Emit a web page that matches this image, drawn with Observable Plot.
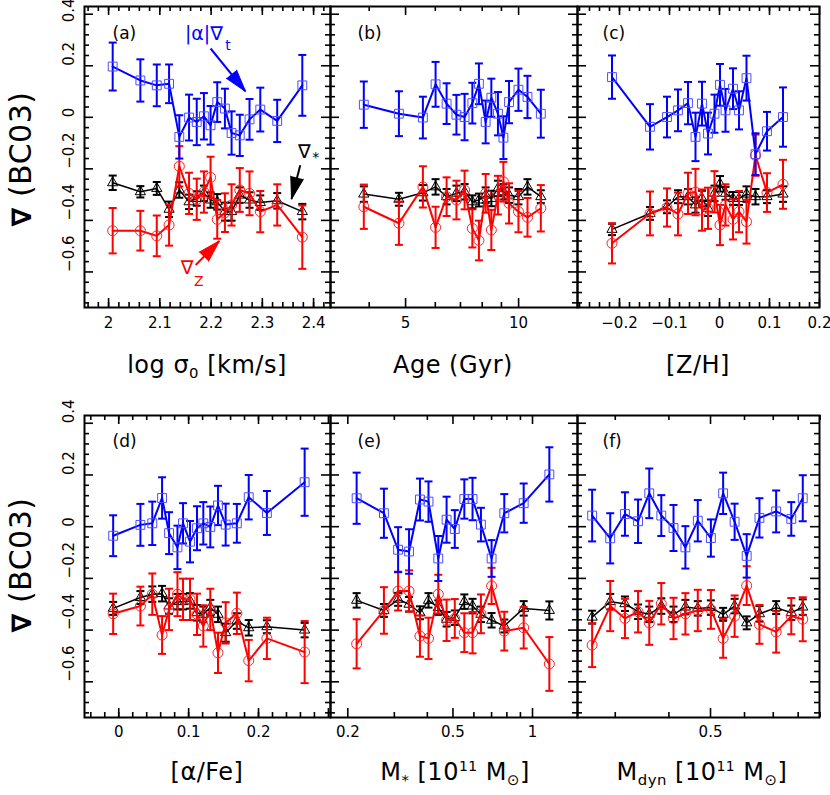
<!DOCTYPE html>
<html><head><meta charset="utf-8">
<script src="https://cdn.jsdelivr.net/npm/d3@7"></script>
<script src="https://cdn.jsdelivr.net/npm/@observablehq/plot@0.6"></script>
<style>
body{margin:0;background:#fff;}
#wrap{position:relative;width:830px;height:795px;font-family:"DejaVu Sans",sans-serif;color:#000;overflow:hidden;}
.xt{position:absolute;transform:translateX(-50%);font-size:24px;line-height:28px;white-space:nowrap;letter-spacing:0.5px;}
.xt sub{font-size:0.62em;vertical-align:-0.35em;line-height:0;}
.xt sup{font-size:0.58em;vertical-align:0.65em;line-height:0;}
.yt{position:absolute;transform:translate(-50%,-50%) rotate(-90deg);font-size:30px;line-height:34px;white-space:nowrap;letter-spacing:0.5px;}
.yt b{font-size:0.9em;}
</style></head><body><div id="wrap"></div>
<script>
// ---------------- data ----------------
// (a) log sigma0
const xA = [2.008, 2.062, 2.094, 2.118, 2.138, 2.157, 2.172, 2.186, 2.199, 2.212, 2.227, 2.240, 2.256, 2.275, 2.296, 2.329, 2.378];
const blueA = [0.197, 0.143, 0.124, 0.130, -0.076, -0.001, -0.018, 0.004, -0.031, 0.059, 0.034, -0.061, -0.070, -0.008, 0.030, -0.014, 0.124];
const blueErrA = [0.093, 0.082, 0.081, 0.075, 0.084, 0.089, 0.090, 0.090, 0.075, 0.077, 0.077, 0.084, 0.080, 0.079, 0.085, 0.082, 0.118];
const blackA = [-0.254, -0.289, -0.276, -0.357, -0.282, -0.328, -0.315, -0.295, -0.321, -0.328, -0.366, -0.366, -0.302, -0.321, -0.331, -0.324, -0.366];
const blackErrA = [0.028, 0.022, 0.025, 0.030, 0.030, 0.028, 0.028, 0.030, 0.030, 0.030, 0.035, 0.035, 0.030, 0.030, 0.028, 0.030, 0.030];
const redA = [-0.440, -0.440, -0.460, -0.418, -0.190, -0.295, -0.318, -0.290, -0.233, -0.396, -0.370, -0.340, -0.282, -0.295, -0.366, -0.340, -0.465];
const redErrA = [0.088, 0.077, 0.079, 0.080, 0.078, 0.080, 0.080, 0.080, 0.080, 0.075, 0.075, 0.080, 0.085, 0.085, 0.080, 0.080, 0.123];
// (b) Age
const xB = [3.87, 4.80, 5.56, 6.01, 6.43, 6.83, 7.18, 7.53, 7.84, 8.17, 8.46, 8.81, 9.11, 9.43, 9.99, 10.56, 11.46];
const blueB = [0.049, 0.014, -0.001, 0.128, 0.053, 0.010, 0.001, 0.055, 0.130, -0.018, 0.076, 0.014, -0.079, 0.059, 0.107, 0.079, 0.014];
const blueErrB = [0.090, 0.087, 0.081, 0.087, 0.079, 0.077, 0.090, 0.079, 0.079, 0.083, 0.074, 0.084, 0.083, 0.082, 0.082, 0.082, 0.093];
const blackB = [-0.298, -0.318, -0.293, -0.270, -0.308, -0.295, -0.289, -0.328, -0.321, -0.302, -0.315, -0.276, -0.289, -0.302, -0.308, -0.270, -0.308];
const blackErrB = [0.030, 0.025, 0.030, 0.030, 0.030, 0.030, 0.030, 0.025, 0.025, 0.030, 0.030, 0.030, 0.030, 0.030, 0.030, 0.030, 0.025];
const redB = [-0.347, -0.411, -0.270, -0.427, -0.308, -0.321, -0.282, -0.431, -0.478, -0.295, -0.437, -0.302, -0.250, -0.334, -0.366, -0.388, -0.353];
const redErrB = [0.086, 0.084, 0.080, 0.080, 0.075, 0.075, 0.075, 0.074, 0.077, 0.075, 0.078, 0.075, 0.077, 0.078, 0.080, 0.075, 0.090];
// (c) [Z/H]
const xC = [-0.215, -0.139, -0.105, -0.083, -0.063, -0.048, -0.035, -0.023, -0.010, 0.001, 0.012, 0.027, 0.039, 0.054, 0.072, 0.095, 0.127];
const blueC = [0.156, -0.037, 0.001, 0.027, 0.055, -0.076, 0.053, -0.063, 0.014, 0.126, 0.027, 0.111, 0.027, 0.152, -0.143, -0.054, 0.001];
const blueErrC = [0.084, 0.088, 0.079, 0.081, 0.082, 0.094, 0.085, 0.081, 0.074, 0.081, 0.083, 0.079, 0.074, 0.087, 0.081, 0.075, 0.115];
const blackC = [-0.435, -0.373, -0.347, -0.308, -0.308, -0.340, -0.315, -0.353, -0.295, -0.258, -0.295, -0.315, -0.315, -0.298, -0.308, -0.308, -0.298];
const blackErrC = [0.022, 0.025, 0.025, 0.025, 0.030, 0.030, 0.030, 0.030, 0.030, 0.030, 0.025, 0.025, 0.025, 0.030, 0.030, 0.025, 0.030];
const redC = [-0.489, -0.373, -0.350, -0.375, -0.295, -0.290, -0.360, -0.353, -0.289, -0.418, -0.340, -0.396, -0.366, -0.405, -0.147, -0.292, -0.260];
const redErrC = [0.078, 0.085, 0.074, 0.083, 0.080, 0.090, 0.080, 0.080, 0.080, 0.078, 0.080, 0.078, 0.080, 0.085, 0.080, 0.075, 0.095];
// (d) [alpha/Fe]
const xD = [-0.008, 0.031, 0.048, 0.062, 0.072, 0.084, 0.092, 0.102, 0.112, 0.121, 0.131, 0.142, 0.153, 0.169, 0.186, 0.212, 0.266];
const blueD = [-0.035, 0.007, 0.013, 0.111, -0.025, -0.080, 0.013, -0.058, -0.006, 0.013, -0.001, 0.082, 0.008, 0.013, 0.114, 0.053, 0.172];
const blueErrD = [0.079, 0.081, 0.084, 0.080, 0.081, 0.084, 0.078, 0.080, 0.085, 0.082, 0.079, 0.076, 0.081, 0.075, 0.086, 0.085, 0.130];
const blackD = [-0.316, -0.274, -0.261, -0.259, -0.307, -0.290, -0.290, -0.287, -0.333, -0.339, -0.313, -0.339, -0.410, -0.365, -0.391, -0.387, -0.400];
const blackErrD = [0.025, 0.025, 0.030, 0.030, 0.030, 0.030, 0.030, 0.030, 0.030, 0.030, 0.030, 0.030, 0.035, 0.030, 0.030, 0.025, 0.028];
const redD = [-0.337, -0.307, -0.261, -0.419, -0.320, -0.261, -0.281, -0.281, -0.339, -0.384, -0.320, -0.488, -0.372, -0.335, -0.518, -0.432, -0.485];
const redErrD = [0.078, 0.075, 0.080, 0.073, 0.080, 0.085, 0.080, 0.080, 0.080, 0.080, 0.080, 0.078, 0.080, 0.080, 0.080, 0.080, 0.120];
// (e) M*
const xE = [0.216, 0.274, 0.310, 0.341, 0.375, 0.404, 0.440, 0.473, 0.508, 0.552, 0.593, 0.638, 0.700, 0.782, 0.926, 1.158];
const blueE = [0.110, 0.052, -0.089, -0.096, 0.105, 0.097, -0.123, 0.027, -0.009, 0.107, 0.107, 0.008, -0.123, 0.052, 0.091, 0.202];
const blueErrE = [0.099, 0.095, 0.087, 0.086, 0.081, 0.078, 0.087, 0.089, 0.073, 0.076, 0.082, 0.065, 0.071, 0.074, 0.076, 0.105];
const blackE = [-0.285, -0.324, -0.281, -0.300, -0.333, -0.285, -0.313, -0.358, -0.352, -0.290, -0.307, -0.339, -0.362, -0.384, -0.316, -0.324];
const blackErrE = [0.028, 0.025, 0.025, 0.028, 0.025, 0.028, 0.028, 0.028, 0.028, 0.028, 0.028, 0.030, 0.028, 0.025, 0.028, 0.035];
const redE = [-0.453, -0.324, -0.249, -0.249, -0.423, -0.432, -0.261, -0.362, -0.355, -0.410, -0.410, -0.337, -0.229, -0.404, -0.391, -0.531];
const redErrE = [0.095, 0.090, 0.075, 0.080, 0.080, 0.080, 0.075, 0.080, 0.075, 0.075, 0.080, 0.075, 0.070, 0.075, 0.080, 0.104];
// (f) Mdyn
const xF = [0.265, 0.292, 0.316, 0.339, 0.360, 0.384, 0.410, 0.437, 0.467, 0.501, 0.535, 0.569, 0.607, 0.650, 0.711, 0.771, 0.820];
const blueF = [0.043, -0.045, 0.049, 0.021, 0.129, 0.043, -0.005, -0.080, 0.023, -0.044, 0.129, 0.019, -0.113, 0.034, 0.059, 0.030, 0.110];
const blueErrF = [0.100, 0.097, 0.084, 0.084, 0.096, 0.079, 0.089, 0.082, 0.080, 0.072, 0.080, 0.070, 0.084, 0.076, 0.081, 0.065, 0.089];
const blackF = [-0.350, -0.290, -0.298, -0.329, -0.339, -0.307, -0.339, -0.311, -0.316, -0.313, -0.339, -0.307, -0.372, -0.337, -0.313, -0.333, -0.311];
const blackErrF = [0.025, 0.030, 0.028, 0.028, 0.030, 0.030, 0.030, 0.028, 0.028, 0.028, 0.025, 0.028, 0.025, 0.030, 0.025, 0.028, 0.030];
const redF = [-0.458, -0.307, -0.355, -0.329, -0.372, -0.298, -0.355, -0.337, -0.324, -0.320, -0.432, -0.346, -0.228, -0.378, -0.407, -0.346, -0.358];
const redErrF = [0.085, 0.097, 0.076, 0.080, 0.085, 0.080, 0.080, 0.080, 0.080, 0.075, 0.075, 0.080, 0.075, 0.075, 0.080, 0.070, 0.085];

// ticks
const yMajor = [-0.6, -0.4, -0.2, 0, 0.2, 0.4];
const yMajorLabels = ["−0.6", "−0.4", "−0.2", "0", "0.2", "0.4"];
const yMinor = [-0.72,-0.68,-0.64,-0.56,-0.52,-0.48,-0.44,-0.36,-0.32,-0.28,-0.24,-0.16,-0.12,-0.08,-0.04,0.04,0.08,0.12,0.16,0.24,0.28,0.32,0.36];
const xMajorA = [2, 2.1, 2.2, 2.3, 2.4], xLabelsA = ["2", "2.1", "2.2", "2.3", "2.4"];
const xMajorB = [5, 10], xLabelsB = ["5", "10"], xMinorB = [4, 6, 7, 8, 9];
const xMajorC = [-0.2, -0.1, 0, 0.1, 0.2], xLabelsC = ["−0.2", "−0.1", "0", "0.1", "0.2"];
const xMajorD = [0, 0.1, 0.2, 0.3], xLabelsD = ["0", "0.1", "0.2", ""];
const xMajorE = [0.2, 0.5, 1], xLabelsE = ["0.2", "0.5", "1"], xMinorE = [0.3, 0.4, 0.6, 0.7, 0.8, 0.9];
const xMajorF = [0.5], xLabelsF = ["0.5"], xMinorF = [0.3, 0.4, 0.6, 0.7, 0.8, 0.9];

// annotations in panel (a), data coordinates
const annotText = [
  {x: 2.186, y: 0.325, text: "|α|∇", fill: "#0000ff", size: 19},
  {x: 2.233, y: 0.280, text: "t", fill: "#0000ff", size: 14},
  {x: 2.382, y: -0.135, text: "∇", fill: "#000000", size: 19},
  {x: 2.404, y: -0.155, text: "*", fill: "#000000", size: 14},
  {x: 2.153, y: -0.585, text: "∇", fill: "#ff0000", size: 19},
  {x: 2.176, y: -0.637, text: "Z", fill: "#ff0000", size: 14}
];
const annotArrows = [
  {x1: 2.199, y1: 0.267, x2: 2.267, y2: 0.101, color: "#0000ff"},
  {x1: 2.374, y1: -0.186, x2: 2.357, y2: -0.317, color: "#000000"},
  {x1: 2.170, y1: -0.573, x2: 2.216, y2: -0.480, color: "#ff0000"}
];

// ---------------- drawing ----------------
const Y_DOMAIN = [-0.738, 0.43];
const rowsOf = (x, v, e) => x.map((xv, i) => ({x: xv, y: v[i], lo: v[i] - e[i], hi: v[i] + e[i]}));
const capSymbol = {draw(ctx, size) { const w = Math.sqrt(size / Math.PI); ctx.moveTo(-w, 0); ctx.lineTo(w, 0); }};
const yLabelOf = d => yMajorLabels[yMajor.indexOf(d)];

function seriesMarks(rows, color, markerColor, symbol, r, lw) {
  return [
    Plot.ruleX(rows, {x: "x", y1: "lo", y2: "hi", stroke: color, strokeWidth: 2}),
    Plot.dot(rows, {x: "x", y: "lo", symbol: capSymbol, r: 4, stroke: color, strokeWidth: 2, fill: "none"}),
    Plot.dot(rows, {x: "x", y: "hi", symbol: capSymbol, r: 4, stroke: color, strokeWidth: 2, fill: "none"}),
    Plot.line(rows, {x: "x", y: "y", stroke: color, strokeWidth: lw}),
    Plot.dot(rows, {x: "x", y: "y", symbol, r, stroke: markerColor, strokeWidth: 1, fill: "none"})
  ];
}

const panels = [
  {tag: "(a)", row: 0, left: 0, width: 330, ml: 84, mr: 0, type: "linear", domain: [1.953, 2.433],
   majors: xMajorA, labels: xLabelsA, minors: d3.range(1.96, 2.43, 0.02),
   x: xA, blue: blueA, blueErr: blueErrA, black: blackA, blackErr: blackErrA, red: redA, redErr: redErrA, ylab: true, tagDx: 28, annot: true},
  {tag: "(b)", row: 0, left: 330, width: 247, ml: 0, mr: 0, type: "log", domain: [3.155, 14.35],
   majors: xMajorB, labels: xLabelsB, minors: xMinorB,
   x: xB, blue: blueB, blueErr: blueErrB, black: blackB, blackErr: blackErrB, red: redB, redErr: redErrB, tagDx: 27},
  {tag: "(c)", row: 0, left: 577, width: 253, ml: 0, mr: 11, type: "linear", domain: [-0.284, 0.2],
   majors: xMajorC, labels: xLabelsC, minors: d3.range(-0.28, 0.2, 0.02),
   x: xC, blue: blueC, blueErr: blueErrC, black: blackC, blackErr: blackErrC, red: redC, redErr: redErrC, tagDx: 25},
  {tag: "(d)", row: 1, left: 0, width: 330, ml: 84, mr: 0, type: "linear", domain: [-0.049, 0.303],
   majors: xMajorD, labels: xLabelsD, minors: d3.range(-0.04, 0.30, 0.02),
   x: xD, blue: blueD, blueErr: blueErrD, black: blackD, blackErr: blackErrD, red: redD, redErr: redErrD, ylab: true, tagDx: 28},
  {tag: "(e)", row: 1, left: 330, width: 247, ml: 0, mr: 0, type: "log", domain: [0.172, 1.48],
   majors: xMajorE, labels: xLabelsE, minors: xMinorE,
   x: xE, blue: blueE, blueErr: blueErrE, black: blackE, blackErr: blackErrE, red: redE, redErr: redErrE, tagDx: 27},
  {tag: "(f)", row: 1, left: 577, width: 253, ml: 0, mr: 11, type: "log", domain: [0.245, 0.897],
   majors: xMajorF, labels: xLabelsF, minors: xMinorF,
   x: xF, blue: blueF, blueErr: blueErrF, black: blackF, blackErr: blackErrF, red: redF, redErr: redErrF, tagDx: 25}
];

const wrap = document.getElementById("wrap");
const HEIGHT = 395;

for (const p of panels) {
  const mt = p.row === 0 ? 6 : 15, mb = p.row === 0 ? 88 : 78;
  const W = p.width - p.ml - p.mr, H = HEIGHT - mt - mb;
  const maj = 9, mn = 5, tw = 1.6;
  const marks = [
    Plot.tickX(p.majors, {x: d => d, insetTop: H - maj, stroke: "black", strokeWidth: tw}),
    Plot.tickX(p.majors, {x: d => d, insetBottom: H - maj, stroke: "black", strokeWidth: tw}),
    Plot.tickX(p.minors, {x: d => d, insetTop: H - mn, stroke: "black", strokeWidth: tw}),
    Plot.tickX(p.minors, {x: d => d, insetBottom: H - mn, stroke: "black", strokeWidth: tw}),
    Plot.tickY(yMajor, {y: d => d, insetRight: W - maj, stroke: "black", strokeWidth: tw}),
    Plot.tickY(yMajor, {y: d => d, insetLeft: W - maj, stroke: "black", strokeWidth: tw}),
    Plot.tickY(yMinor, {y: d => d, insetRight: W - mn, stroke: "black", strokeWidth: tw}),
    Plot.tickY(yMinor, {y: d => d, insetLeft: W - mn, stroke: "black", strokeWidth: tw}),
    Plot.frame({stroke: "black", strokeWidth: 2}),
    Plot.text(p.majors, {x: d => d, frameAnchor: "bottom", lineAnchor: "middle", dy: p.row === 0 ? 16 : 15, text: (d, i) => p.labels[i], fontSize: 15, fill: "black"}),
    Plot.text([p.tag], {frameAnchor: "top-left", lineAnchor: "middle", dx: p.tagDx, dy: p.row === 0 ? 27 : 26, text: d => d, textAnchor: "start", fontSize: 17, fill: "black"}),
    ...seriesMarks(rowsOf(p.x, p.black, p.blackErr), "#000000", "#000000", "triangle", 3.8, 1.5),
    ...seriesMarks(rowsOf(p.x, p.red, p.redErr), "#ff0000", "#ff2020", "circle", 5, 2),
    ...seriesMarks(rowsOf(p.x, p.blue, p.blueErr), "#0000ff", "#4d4dff", "square", 5, 2)
  ];
  if (p.ylab) {
    const lower = yMajor.filter(d => d < 0.3), top = yMajor.filter(d => d > 0.3);
    marks.push(Plot.text(lower, {y: d => d, frameAnchor: "left", dx: -15, rotate: -90, text: yLabelOf, fontSize: 15, fill: "black"}));
    // the top-row "0.4" label sits a little lower so that it stays inside the figure
    marks.push(Plot.text(top, {y: d => d, frameAnchor: "left", dx: -15, dy: p.row === 0 ? 8 : 0, rotate: -90, text: yLabelOf, fontSize: 15, fill: "black"}));
  }
  if (p.annot) {
    const sx = d3.scaleLinear(p.domain, [p.ml, p.ml + W]);
    const sy = d3.scaleLinear(Y_DOMAIN, [mt + H, mt]);
    const ang = d => Math.atan2(sx(d.x2) - sx(d.x1), -(sy(d.y2) - sy(d.y1))) * 180 / Math.PI;
    marks.push(
      Plot.link(annotArrows, {x1: "x1", y1: "y1", x2: "x2", y2: "y2", stroke: "color", strokeWidth: 2}),
      Plot.vector(annotArrows, {x: "x2", y: "y2", rotate: ang, length: 22, r: 6.5, shape: "spike", anchor: "end", fill: "color", stroke: "color", strokeWidth: 1}),
      Plot.text(annotText, {x: "x", y: "y", text: "text", fill: "fill", fontSize: "size"})
    );
  }
  const svg = Plot.plot({
    width: p.width, height: HEIGHT,
    marginLeft: p.ml, marginRight: p.mr, marginTop: mt, marginBottom: mb,
    x: {type: p.type, domain: p.domain, axis: null},
    y: {type: "linear", domain: Y_DOMAIN, axis: null},
    style: {background: "transparent", overflow: "visible", fontFamily: "DejaVu Sans, sans-serif", color: "black"},
    marks
  });
  svg.style.position = "absolute";
  svg.style.left = p.left + "px";
  svg.style.top = (p.row === 0 ? 0 : 400) + "px";
  svg.style.maxWidth = "none";
  wrap.appendChild(svg);
}

// axis titles (HTML, real text)
const xTitles = [
  {cx: 207, top: 351, html: "log σ<sub>0</sub> [km/s]"},
  {cx: 453, top: 351, html: "Age (Gyr)"},
  {cx: 698, top: 351, html: "[Z/H]"},
  {cx: 207, top: 758, html: "[α/Fe]"},
  {cx: 455, top: 758, html: "M<sub>*</sub> [10<sup>11</sup> M<sub>⊙</sub>]"},
  {cx: 702, top: 758, html: "M<sub>dyn</sub> [10<sup>11</sup> M<sub>⊙</sub>]"}
];
for (const t of xTitles) {
  const d = document.createElement("div");
  d.className = "xt"; d.style.left = t.cx + "px"; d.style.top = t.top + "px"; d.innerHTML = t.html;
  wrap.appendChild(d);
}
for (const cy of [159, 565]) {
  const d = document.createElement("div");
  d.className = "yt"; d.style.left = "21px"; d.style.top = cy + "px";
  d.innerHTML = "<b>∇</b> (BC03)";
  wrap.appendChild(d);
}
</script></body></html>
